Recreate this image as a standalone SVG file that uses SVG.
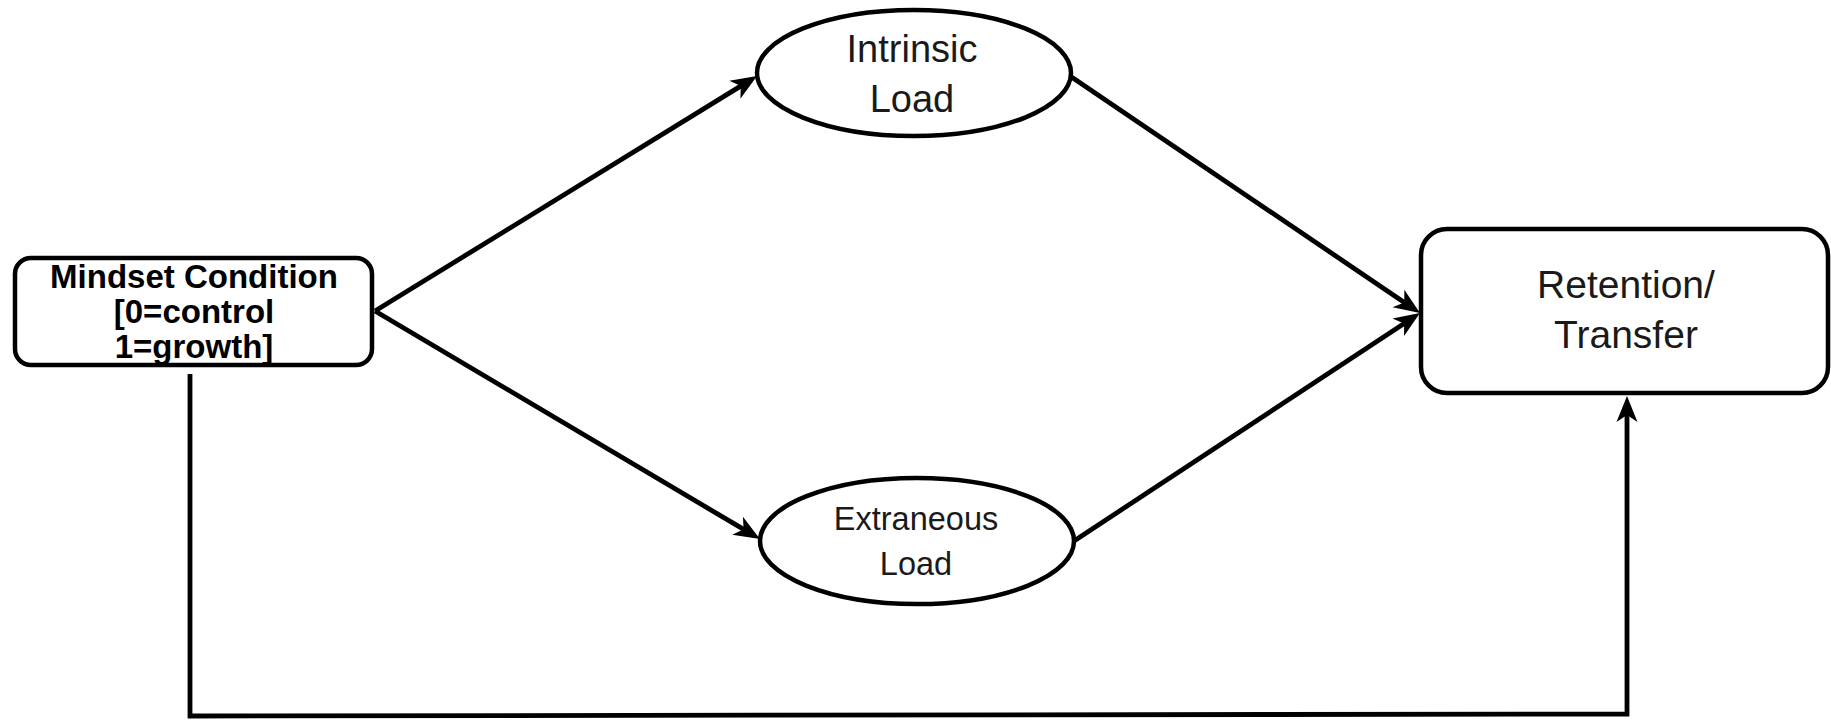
<svg xmlns="http://www.w3.org/2000/svg" width="1831" height="720" viewBox="0 0 1831 720">
<style>
.shape{fill:#fff;stroke:#000;stroke-width:4.5}
.conn{fill:none;stroke:#000;stroke-width:4.8}
text{font-family:"Liberation Sans",Arial,sans-serif;fill:#1a1a1a;text-anchor:middle}
.b{font-weight:bold;font-size:33px;fill:#000}
</style>
<defs>
<marker id="ah" markerUnits="userSpaceOnUse" markerWidth="28" markerHeight="24" viewBox="0 0 28 24" refX="12" refY="12" orient="auto">
<path d="M0,1.5 L26,12 L0,22.5 L7,12 Z" fill="#000"/>
</marker>
</defs>
<rect width="1831" height="720" fill="#fff"/>
<g id="connectors">
<path class="conn" d="M375,311 L745.1,83.4" marker-end="url(#ah)"/>
<path class="conn" d="M375,311 L747.9,531.9" marker-end="url(#ah)"/>
<path class="conn" d="M1070,76 L1408.4,305.2" marker-end="url(#ah)"/>
<path class="conn" d="M1074,541 L1408.3,320.7" marker-end="url(#ah)"/>
<path class="conn" d="M190,374 L190,716 L1627,714 L1627,410" marker-end="url(#ah)"/>
</g>
<g id="mindset">
<rect class="shape" x="15" y="258" width="357" height="107" rx="16"/>
<text class="b" x="194" y="288">Mindset Condition</text>
<text class="b" x="194" y="323">[0=control</text>
<text class="b" x="194" y="358">1=growth]</text>
</g>
<g id="intrinsic">
<ellipse class="shape" cx="914" cy="73" rx="157" ry="63"/>
<text x="912" y="62" font-size="38">Intrinsic</text>
<text x="912" y="112" font-size="38">Load</text>
</g>
<g id="extraneous">
<ellipse class="shape" cx="917" cy="541" rx="157" ry="63"/>
<text x="916" y="530" font-size="32.5">Extraneous</text>
<text x="916" y="575" font-size="32.5">Load</text>
</g>
<g id="retention">
<rect class="shape" x="1421" y="229" width="407" height="164" rx="26"/>
<text x="1626" y="298" font-size="39">Retention/</text>
<text x="1626" y="348" font-size="39">Transfer</text>
</g>
</svg>
